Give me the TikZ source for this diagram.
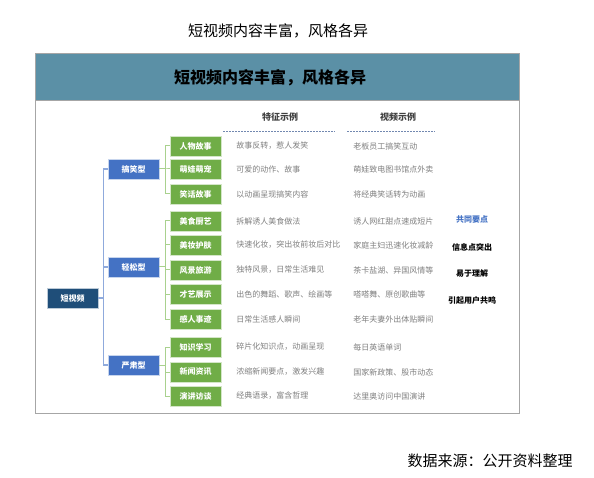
\documentclass[tikz,border=0pt]{standalone}
\usepackage{fontspec}
\setmainfont{Noto Sans CJK SC}
\usetikzlibrary{positioning, calc}
\definecolor{bandbg}{HTML}{5B90A6}
\definecolor{rootbg}{HTML}{1F4E79}
\definecolor{catbg}{HTML}{4472C4}
\definecolor{leafbg}{HTML}{70AD47}
\definecolor{bluelink}{HTML}{8FAADC}
\definecolor{greenlink}{HTML}{A9D18E}
\definecolor{framegray}{HTML}{A6A6A6}
\definecolor{textgray}{HTML}{7F7F7F}

\begin{document}
\begin{tikzpicture}[
    x=1pt, y=-1pt,
    every node/.style={font=\fontsize{8}{9}\selectfont, inner sep=0pt},
    rootbox/.style={draw=white!70!rootbg, fill=rootbg, text=white, font=\fontsize{8}{9}\selectfont\bfseries, minimum width=51pt, minimum height=20pt},
    catbox/.style={draw=white!70!catbg, fill=catbg, text=white, font=\fontsize{8}{9}\selectfont\bfseries, minimum width=51pt, minimum height=20pt},
    leafbox/.style={draw=white!70!leafbg, fill=leafbg, text=white, font=\fontsize{8}{9}\selectfont\bfseries, minimum width=51pt, minimum height=20pt},
    catlink/.style={bluelink, line width=1.4pt},
    leaflink/.style={greenlink, line width=1pt},
    feat/.style={anchor=west, text=textgray},
    colhead/.style={font=\fontsize{9}{10}\selectfont\bfseries, text=black!75},
    keypt/.style={font=\fontsize{8}{9}\selectfont\bfseries, text=black}
]
\useasboundingbox (0,0) rectangle (594,478);
% Titles
\node[font=\fontsize{15}{16}\selectfont] (title) at (278,31) {短视频内容丰富，风格各异};
\node[font=\fontsize{15}{16}\selectfont] (source) at (490,461) {数据来源：公开资料整理};
% Frame and header band
\fill[bandbg] (35,54) rectangle (519,101);
\draw[framegray, line width=1pt] (35,101) -- (519,101);
\draw[framegray, line width=1pt] (35,54) rectangle (519,413);
\node[font=\fontsize{16}{17}\selectfont\bfseries] (head) at (270,78) {短视频内容丰富，风格各异};
% Column heads
\node[colhead] (hfeat) at (280,117) {特征示例};
\node[colhead] (hvideo) at (398,117) {视频示例};
\draw[bluelink!80!black, line width=0.8pt, dash pattern=on 2pt off 1pt] (223,131) -- (335,131);
\draw[bluelink!80!black, line width=0.8pt, dash pattern=on 2pt off 1pt] (347,131) -- (435,131);
% Tree
\node[rootbox] (root) at (72.5,298) {短视频};
\node[catbox] (catA) at (133.5,169) {搞笑型};
\node[catbox] (catB) at (133.5,267) {轻松型};
\node[catbox] (catC) at (133.5,365) {严肃型};
\node[leafbox] (leafA1) at (195.5,146) {人物故事};
\node[leafbox] (leafA2) at (195.5,169) {萌娃萌宠};
\node[leafbox] (leafA3) at (195.5,194) {笑话故事};
\node[leafbox] (leafB1) at (195.5,221) {美食厨艺};
\node[leafbox] (leafB2) at (195.5,245) {美妆护肤};
\node[leafbox] (leafB3) at (195.5,270) {风景旅游};
\node[leafbox] (leafB4) at (195.5,294) {才艺展示};
\node[leafbox] (leafB5) at (195.5,319) {感人事迹};
\node[leafbox] (leafC1) at (195.5,347) {知识学习};
\node[leafbox] (leafC2) at (195.5,372) {新闻资讯};
\node[leafbox] (leafC3) at (195.5,396) {演讲访谈};
% Links
\draw[catlink] (root.east) -- ++(5,0) |- (catA.west);
\draw[catlink] (root.east) -- ++(5,0) |- (catB.west);
\draw[catlink] (root.east) -- ++(5,0) |- (catC.west);
\draw[leaflink] (catA.east) -- ++(6,0) |- (leafA1.west);
\draw[leaflink] (catA.east) -- ++(6,0) |- (leafA2.west);
\draw[leaflink] (catA.east) -- ++(6,0) |- (leafA3.west);
\draw[leaflink] (catB.east) -- ++(6,0) |- (leafB1.west);
\draw[leaflink] (catB.east) -- ++(6,0) |- (leafB2.west);
\draw[leaflink] (catB.east) -- ++(6,0) |- (leafB3.west);
\draw[leaflink] (catB.east) -- ++(6,0) |- (leafB4.west);
\draw[leaflink] (catB.east) -- ++(6,0) |- (leafB5.west);
\draw[leaflink] (catC.east) -- ++(6,0) |- (leafC1.west);
\draw[leaflink] (catC.east) -- ++(6,0) |- (leafC2.west);
\draw[leaflink] (catC.east) -- ++(6,0) |- (leafC3.west);
% Feature examples
\node[feat] (fA1) at ([xshift=15pt]leafA1.east) {故事反转，惹人发笑};
\node[feat] (fA2) at ([xshift=15pt]leafA2.east) {可爱的动作、故事};
\node[feat] (fA3) at ([xshift=15pt]leafA3.east) {以动画呈现搞笑内容};
\node[feat] (fB1) at ([xshift=15pt]leafB1.east) {拆解诱人美食做法};
\node[feat] (fB2) at ([xshift=15pt]leafB2.east) {快速化妆，突出妆前妆后对比};
\node[feat] (fB3) at ([xshift=15pt]leafB3.east) {独特风景，日常生活难见};
\node[feat] (fB4) at ([xshift=15pt]leafB4.east) {出色的舞蹈、歌声、绘画等};
\node[feat] (fB5) at ([xshift=15pt]leafB5.east) {日常生活感人瞬间};
\node[feat] (fC1) at ([xshift=15pt]leafC1.east) {碎片化知识点，动画呈现};
\node[feat] (fC2) at ([xshift=15pt]leafC2.east) {浓缩新闻要点，激发兴趣};
\node[feat] (fC3) at ([xshift=15pt]leafC3.east) {经典语录，富含哲理};
% Video examples
\node[feat] (vA1) at ([xshift=132pt]leafA1.east) {老板员工搞笑互动};
\node[feat] (vA2) at ([xshift=132pt]leafA2.east) {萌娃致电图书馆点外卖};
\node[feat] (vA3) at ([xshift=132pt]leafA3.east) {将经典笑话转为动画};
\node[feat] (vB1) at ([xshift=132pt]leafB1.east) {诱人网红甜点速成短片};
\node[feat] (vB2) at ([xshift=132pt]leafB2.east) {家庭主妇迅速化妆减龄};
\node[feat] (vB3) at ([xshift=132pt]leafB3.east) {茶卡盐湖、异国风情等};
\node[feat] (vB4) at ([xshift=132pt]leafB4.east) {嗒嗒舞、原创歌曲等};
\node[feat] (vB5) at ([xshift=132pt]leafB5.east) {老年夫妻外出体贴瞬间};
\node[feat] (vC1) at ([xshift=132pt]leafC1.east) {每日英语单词};
\node[feat] (vC2) at ([xshift=132pt]leafC2.east) {国家新政策、股市动态};
\node[feat] (vC3) at ([xshift=132pt]leafC3.east) {达里奥访问中国演讲};
% Common points
\node[keypt, text=catbg] (kp0) at (472,219) {共同要点};
\node[keypt] (kp1) at (472,247) {信息点突出};
\node[keypt] (kp2) at (472,273) {易于理解};
\node[keypt] (kp3) at (472,300) {引起用户共鸣};
\end{tikzpicture}
\end{document}
